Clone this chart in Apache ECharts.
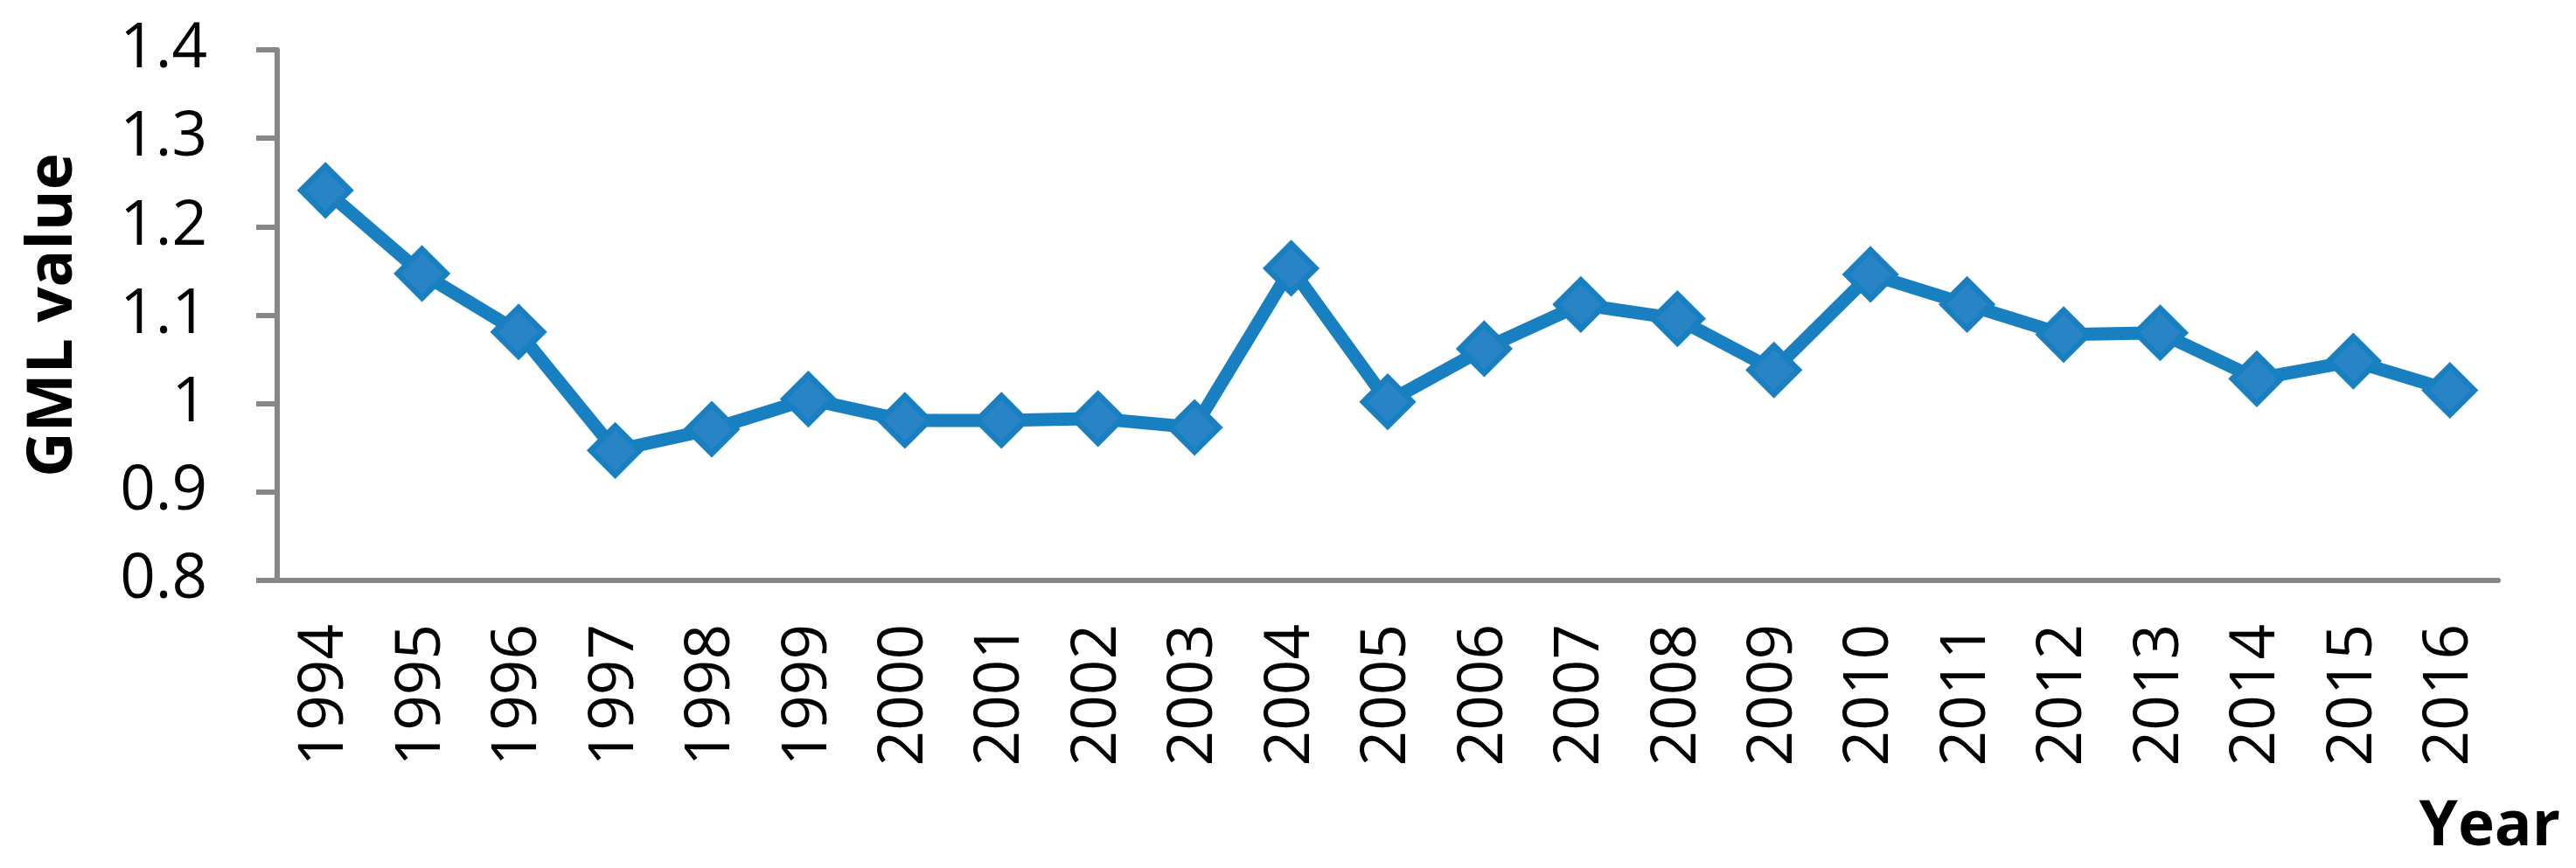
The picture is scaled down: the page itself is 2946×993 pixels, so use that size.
<!DOCTYPE html>
<html>
<head>
<meta charset="utf-8">
<script src="https://cdn.jsdelivr.net/npm/echarts@6/dist/echarts.min.js"></script>
<style>
  html, body { margin: 0; padding: 0; background: #fff; }
  #chart { width: 2946px; height: 993px; }
</style>
</head>
<body>
<div id="chart"></div>
<script>
const years = ['1994', '1995', '1996', '1997', '1998', '1999', '2000', '2001',
  '2002', '2003', '2004', '2005', '2006', '2007', '2008', '2009', '2010',
  '2011', '2012', '2013', '2014', '2015', '2016'];
const gmlValues = [1.241, 1.147, 1.081, 0.947, 0.971, 1.005, 0.981, 0.981,
  0.983, 0.973, 1.153, 1.002, 1.062, 1.112, 1.096, 1.038, 1.146,
  1.112, 1.078, 1.080, 1.028, 1.048, 1.015];
const yMin = 0.8;
const yMax = 1.4;
const yStep = 0.1;

const axisGrey = '#878787';
const lineBlue = '#187fc0';
const fillBlue = '#2884c5';
const font = '"Open Sans", "Noto Sans", sans-serif';

const chart = echarts.init(document.getElementById('chart'));

const option = {
  animation: false,
  backgroundColor: '#fff',
  grid: { left: 317, right: 89, top: 57, bottom: 329 },
  xAxis: {
    type: 'category',
    data: years,
    boundaryGap: true,
    axisLine: { lineStyle: { color: axisGrey, width: 6 } },
    axisTick: { length: 24, lineStyle: { color: axisGrey, width: 6 } },
    axisLabel: {
      rotate: 90,
      margin: 50,
      color: '#000',
      fontFamily: font,
      fontSize: 71,
      interval: 0
    },
    splitLine: { show: false }
  },
  yAxis: {
    type: 'value',
    min: yMin,
    max: yMax,
    interval: yStep,
    name: 'GML value',
    nameLocation: 'middle',
    nameRotate: 90,
    nameGap: 220,
    nameTextStyle: { color: '#000', fontFamily: font, fontSize: 71, fontWeight: 'bold' },
    axisLine: { show: true, lineStyle: { color: axisGrey, width: 6 } },
    axisTick: { show: true, length: 24, lineStyle: { color: axisGrey, width: 6 } },
    axisLabel: { margin: 80, color: '#000', fontFamily: font, fontSize: 71 },
    splitLine: { show: false }
  },
  graphic: [{
    type: 'text',
    right: 18,
    top: 911,
    style: {
      text: 'Year',
      fill: '#000',
      font: 'bold 71px ' + font
    }
  }],
  series: [{
    type: 'line',
    data: gmlValues,
    symbol: 'diamond',
    symbolSize: 56,
    showAllSymbol: true,
    lineStyle: { color: lineBlue, width: 15 },
    itemStyle: { color: fillBlue, borderColor: lineBlue, borderWidth: 6.5 }
  }]
};

chart.setOption(option);
</script>
</body>
</html>
